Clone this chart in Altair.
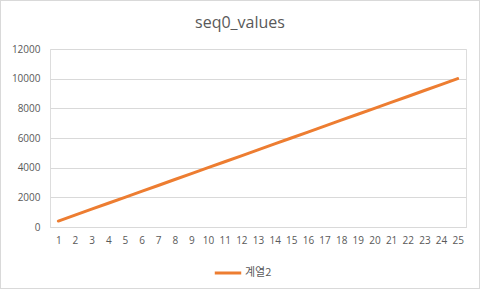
import altair as alt
import pandas as pd

categories = list(range(1, 26))
values = [400, 800, 1200, 1600, 2000, 2400, 2800, 3200, 3600, 4000,
          4400, 4800, 5200, 5600, 6000, 6400, 6800, 7200, 7600, 8000,
          8400, 8800, 9200, 9600, 10000]
series_name = "계열2"
title_text = "seq0_values"
y_ticks = [0, 2000, 4000, 6000, 8000, 10000, 12000]

df = pd.DataFrame({"x": categories, "y": values, "series": [series_name] * len(values)})

W, H = 416, 178
PL, PT = 50, 49

line = alt.Chart(df).mark_line(strokeWidth=3, strokeCap="round").encode(
    x=alt.X("x:O", scale=alt.Scale(type="point", padding=0.5),
            axis=alt.Axis(title=None, labelAngle=0, ticks=False, domainColor="#d9d9d9",
                          labelColor="#595959", labelFontSize=10, labelPadding=8,
                          labelFont="Open Sans", grid=False)),
    y=alt.Y("y:Q", scale=alt.Scale(domain=[0, 12000], nice=False),
            axis=alt.Axis(title=None, values=y_ticks, ticks=False, domain=False, format="d",
                          gridColor="#d9d9d9", labelColor="#595959", labelFontSize=10,
                          labelPadding=10, labelFont="Open Sans")),
    color=alt.Color("series:N", scale=alt.Scale(range=["#ED7D31"]),
                    legend=alt.Legend(title=None, orient="none", legendX=163, legendY=209,
                                      symbolType="stroke", symbolSize=700, symbolStrokeWidth=3,
                                      labelFont="Noto Sans CJK KR", labelFontSize=11,
                                      labelColor="#595959", labelOffset=2)),
)

border = alt.Chart(df).mark_rect(fill=None, stroke="#d9d9d9", strokeWidth=1, clip=False).encode(
    x=alt.value(-PL + 0.5), x2=alt.value(480 - PL - 0.5),
    y=alt.value(-PT + 0.5), y2=alt.value(289 - PT - 0.5),
)

title = alt.Chart(pd.DataFrame({"t": [title_text]})).mark_text(
    font="Open Sans", fontSize=16, color="#595959", align="center", baseline="middle"
).encode(text="t:N", x=alt.value(240 - PL), y=alt.value(23 - PT))

chart = alt.layer(border, line, title).properties(
    width=W, height=H,
    autosize=alt.AutoSizeParams(type="none"),
    padding={"left": PL, "top": PT, "right": 480 - PL - W, "bottom": 289 - PT - H},
).configure_view(stroke=None).configure(background="white")

chart.save("out.html", embed_options={"renderer": "svg", "actions": False})
